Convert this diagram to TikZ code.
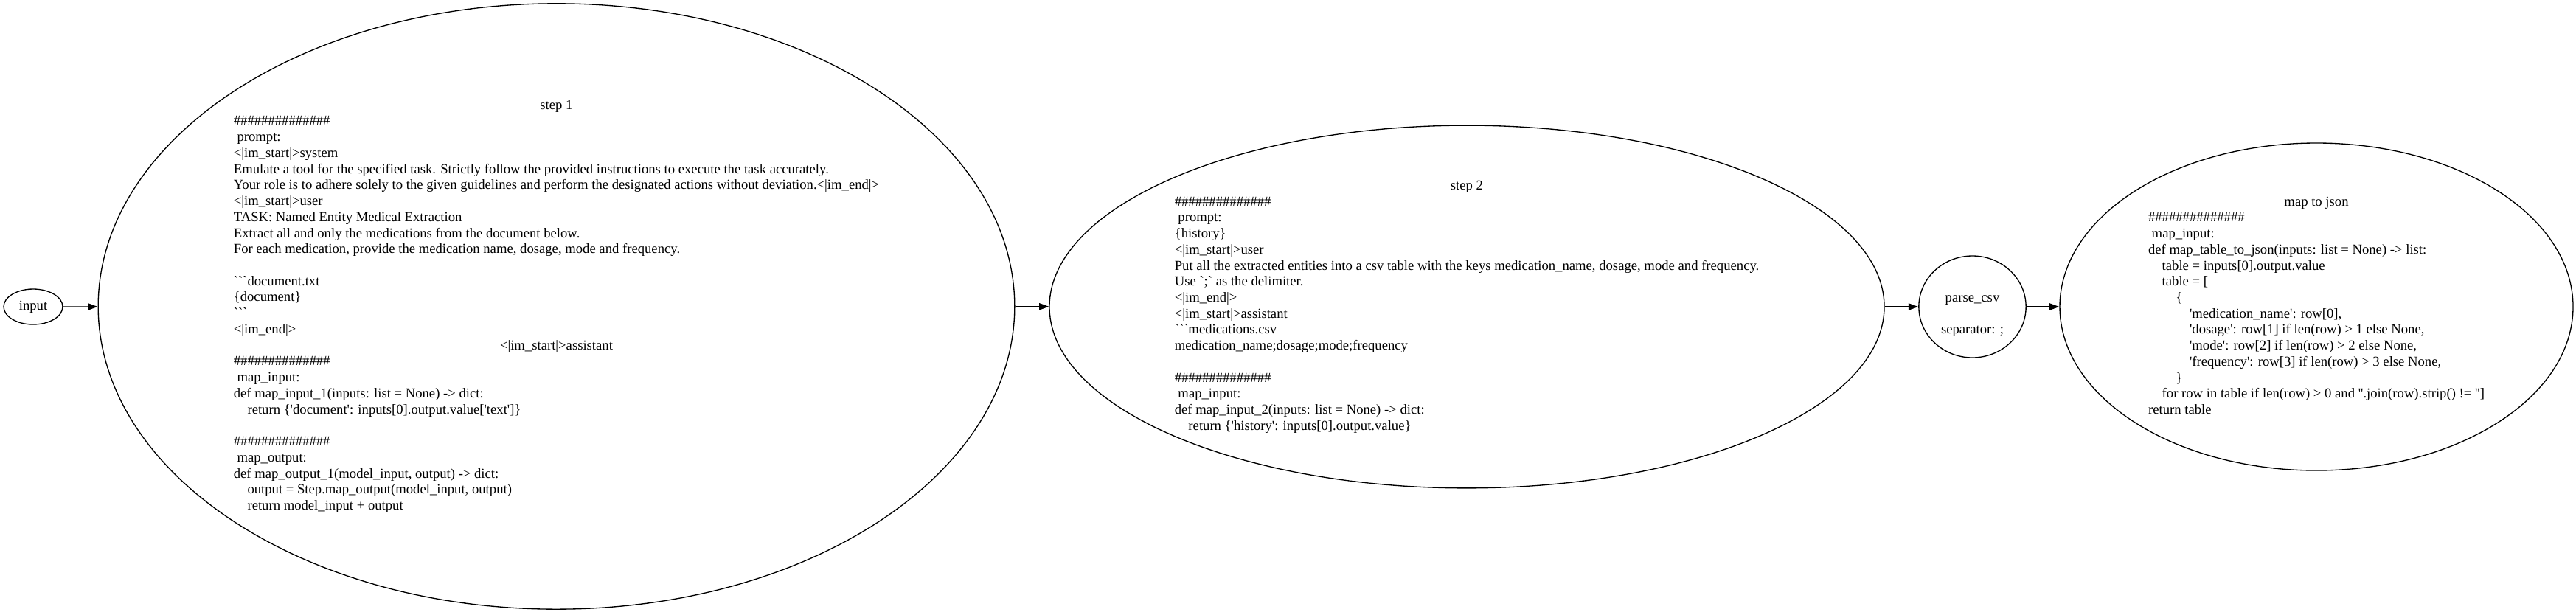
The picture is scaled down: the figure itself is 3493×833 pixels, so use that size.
\documentclass[tikz,border=0pt]{standalone}
\usepackage{fontspec}
\setmainfont{Liberation Serif}[Ligatures=TeXOff]
\usetikzlibrary{shapes.geometric,arrows.meta}

\tikzset{
	paso/.style={ellipse, draw, line width=1pt, inner sep=0pt, font=\fontsize{14pt}{16.3pt}\selectfont},
	flecha/.style={-{Triangle[length=10pt,width=7pt]}, line width=1pt}
}
\newcommand{\centrado}[1]{\multicolumn{1}{@{}c@{}}{#1}}
\newcommand{\sangria}{\hspace*{14pt}}
\newcommand{\almohadillas}{\#\#\#\#\#\#\#\#\#\#\#\#\#\#}

\begin{document}
\begin{tikzpicture}[x=0.75pt, y=-0.75pt]

	\useasboundingbox (0,0) rectangle (3493,833);

	% 1. Nodos (posiciones en pixeles)
	% Entrada
	\node[paso, minimum width=60pt, minimum height=36pt] (input) at (45,416) {input};

	% Paso 1
	\node[paso, minimum width=932pt, minimum height=616pt] (paso1) at (754.5,415.5) {\begin{tabular}{@{}l@{}}
		\centrado{step 1}\\
		\almohadillas\\
		\ prompt:\\
		<|im\_start|>system\\
		Emulate a tool for the specified task. Strictly follow the provided instructions to execute the task accurately.\\
		Your role is to adhere solely to the given guidelines and perform the designated actions without deviation.<|im\_end|>\\
		<|im\_start|>user\\
		TASK: Named Entity Medical Extraction\\
		Extract all and only the medications from the document below.\\
		For each medication, provide the medication name, dosage, mode and frequency.\\
		\\
		```document.txt\\
		\{document\}\\
		```\\
		<|im\_end|>\\
		\centrado{<|im\_start|>assistant}\\
		\almohadillas\\
		\ map\_input:\\
		def map\_input\_1(inputs: list = None) -> dict:\\
		\sangria return \{'document': inputs[0].output.value['text']\}\\
		\\
		\almohadillas\\
		\ map\_output:\\
		def map\_output\_1(model\_input, output) -> dict:\\
		\sangria output = Step.map\_output(model\_input, output)\\
		\sangria return model\_input + output
	\end{tabular}};

	% Paso 2
	\node[paso, minimum width=849pt, minimum height=322pt] (paso2) at (1989,416) {\begin{tabular}{@{}l@{}}
		\centrado{step 2}\\
		\almohadillas\\
		\ prompt:\\
		\{history\}\\
		<|im\_start|>user\\
		Put all the extracted entities into a csv table with the keys medication\_name, dosage, mode and frequency.\\
		Use `;` as the delimiter.\\
		<|im\_end|>\\
		<|im\_start|>assistant\\
		```medications.csv\\
		medication\_name;dosage;mode;frequency\\
		\\
		\almohadillas\\
		\ map\_input:\\
		def map\_input\_2(inputs: list = None) -> dict:\\
		\sangria return \{'history': inputs[0].output.value\}
	\end{tabular}};

	% Parser csv
	\node[paso, minimum width=109pt, minimum height=103.5pt] (parse) at (2674.5,416) {\begin{tabular}{@{}c@{}}
		\\
		parse\_csv\\
		\\
		separator: ;
	\end{tabular}};

	% Mapeo a json
	\node[paso, minimum width=522pt, minimum height=333pt] (json) at (3141,416) {\begin{tabular}{@{}l@{}}
		\centrado{map to json}\\
		\almohadillas\\
		\ map\_input:\\
		def map\_table\_to\_json(inputs: list = None) -> list:\\
		\sangria table = inputs[0].output.value\\
		\sangria table = [\\
		\sangria\sangria \{\\
		\sangria\sangria\sangria 'medication\_name': row[0],\\
		\sangria\sangria\sangria 'dosage': row[1] if len(row) > 1 else None,\\
		\sangria\sangria\sangria 'mode': row[2] if len(row) > 2 else None,\\
		\sangria\sangria\sangria 'frequency': row[3] if len(row) > 3 else None,\\
		\sangria\sangria \}\\
		\sangria for row in table if len(row) > 0 and ''.join(row).strip() != '']\\
		return table
	\end{tabular}};

	% 2. Conexiones
	\draw[flecha] (input) -- (paso1);
	\draw[flecha] (paso1) -- (paso2);
	\draw[flecha] (paso2) -- (parse);
	\draw[flecha] (parse) -- (json);

\end{tikzpicture}
\end{document}
